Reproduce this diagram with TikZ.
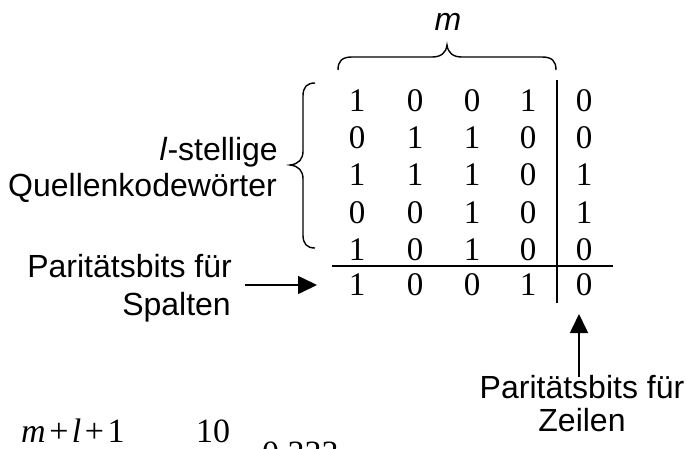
\documentclass[tikz,border=0pt]{standalone}
\usepackage{fontspec}
\setmainfont{Liberation Serif}
\newfontfamily\arial{Liberation Sans}
\usetikzlibrary{arrows.meta}
\begin{document}
\begin{tikzpicture}[x=1pt,y=-1pt,
  digit/.style={inner sep=0pt, font=\fontsize{33}{33}\selectfont},
  lab/.style={inner sep=0pt, font=\arial\fontsize{32}{36}\selectfont},
  formula/.style={inner sep=0pt, font=\fontsize{34}{34}\selectfont},
  rulel/.style={line width=2pt},
  bracel/.style={line width=1.4pt},
  arr/.style={line width=1.6pt, -{Triangle[length=19pt,width=18pt]}}]
\useasboundingbox (0,0) rectangle (686,448);

% matrix entries
\foreach \r/\y/\a/\b/\c/\d/\e in {1/101/1/0/0/1/0, 2/138/0/1/1/0/0, 3/175/1/1/1/0/1,
    4/212.5/0/0/1/0/1, 5/250/1/0/1/0/0, 6/285/1/0/0/1/0}{
  \node[digit] (r\r c1) at (357,\y) {\a};
  \node[digit] (r\r c2) at (415,\y) {\b};
  \node[digit] (r\r c3) at (472,\y) {\c};
  \node[digit] (r\r c4) at (528,\y) {\d};
  \node[digit] (r\r c5) at (584,\y) {\e};
}

% rules
\coordinate (vtop) at (557,80);
\coordinate (vbot) at (557,303);
\coordinate (hl) at (332,266);
\coordinate (hr) at (613,266);
\draw[rulel] (vtop) -- (vbot);
\draw[rulel] (hl) -- (hr);

% top brace
\draw[bracel] (338,70) .. controls (338,61) and (342,57) .. (352,57) -- (432,57)
  .. controls (441,57) and (446,53) .. (447,45)
  .. controls (448,53) and (453,57) .. (462,57) -- (542,57)
  .. controls (552,57) and (556,61) .. (556,70);
\node[lab, anchor=base, font=\arial\itshape\fontsize{32}{36}\selectfont] (m) at (448,30) {m};

% left brace
\draw[bracel] (315,83) .. controls (307,83) and (303,87) .. (303,96) -- (303,151)
  .. controls (303,159) and (299,164) .. (290,165)
  .. controls (299,166) and (303,171) .. (303,179) -- (303,235)
  .. controls (303,244) and (307,248) .. (315,248);
\node[lab, anchor=base east] (ls) at (278,160) {\textit{l}-stellige};
\node[lab, anchor=base east] (qk) at (277,196) {Quellenkodewörter};

% parity for columns
\node[lab, anchor=base east] (ps1) at (232,277) {Paritätsbits für};
\node[lab, anchor=base east] (ps2) at (231,315) {Spalten};
\coordinate (pa) at (245,285);
\coordinate (pb) at (317,285);
\draw[arr] (pa) -- (pb);

% parity for rows
\node[lab, anchor=base] (pz1) at (582,398) {Paritätsbits für};
\node[lab, anchor=base] (pz2) at (582,431) {Zeilen};
\coordinate (za) at (579,377);
\coordinate (zb) at (579,314);
\draw[arr] (za) -- (zb);

% formula (cut off at the bottom)
\node[formula, anchor=base west] (f1) at (21,442) {\textit{m}\kern3.5pt+\kern3.5pt\textit{l}\kern3.5pt+\kern3.5pt1};
\node[formula, anchor=base west] (f2) at (196,442) {10};
\node[formula, anchor=base west] (f3) at (262,464) {0.333};
\end{tikzpicture}
\end{document}
